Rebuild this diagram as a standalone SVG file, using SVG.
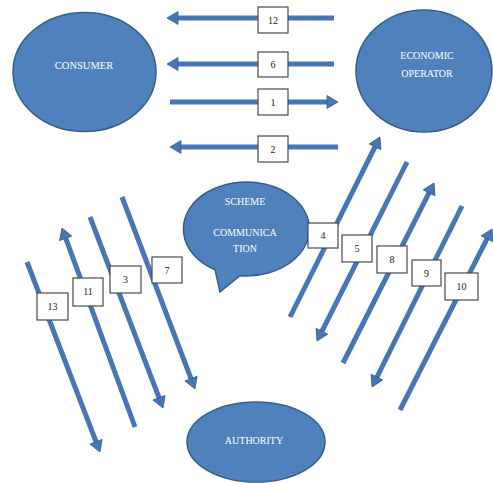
<svg xmlns="http://www.w3.org/2000/svg" width="493" height="485" viewBox="0 0 493 485">
<style>
.node{fill:#4f81bd;stroke:#385d8a;stroke-width:1.5}
.nt{fill:#ffffff;font-family:"Liberation Serif","Times New Roman",serif;font-size:10px;text-anchor:middle}
.ar{stroke:#4676b4;stroke-width:5;fill:none;marker-end:url(#head)}
.box{fill:#ffffff;stroke:#4a4a4a;stroke-width:1.2}
.bt{fill:#222222;font-family:"Liberation Serif","Times New Roman",serif;font-size:10px;text-anchor:middle}
</style>
<defs>
<marker id="head" markerUnits="userSpaceOnUse" markerWidth="14" markerHeight="16" viewBox="-1 -8 14 16" refX="1" refY="0" orient="auto">
<path d="M0,-6.5 L11,0 L0,6.5 Z" fill="#4676b4" stroke="#35609a" stroke-width="0.8"/>
</marker>
</defs>
<rect width="493" height="485" fill="#ffffff"/>
<g id="consumer">
<ellipse class="node" cx="84.5" cy="72" rx="71.5" ry="59.5"/>
<text class="nt" x="84" y="69" style="font-size:10.5px">CONSUMER</text>
</g>
<g id="economic-operator">
<ellipse class="node" cx="424" cy="71" rx="68" ry="61"/>
<text class="nt" x="427" y="59">ECONOMIC</text>
<text class="nt" x="427" y="77">OPERATOR</text>
</g>
<g id="scheme-communication">
<path class="node" d="M215,269.7 L220,292 L240,275.7 A63,47 0 1 0 215,269.7 Z"/>
<text class="nt" x="245" y="205">SCHEME</text>
<text class="nt" x="245" y="236">COMMUNICA</text>
<text class="nt" x="245" y="252">TION</text>
</g>
<g id="authority">
<ellipse class="node" cx="256" cy="442" rx="69" ry="40"/>
<text class="nt" x="254" y="444">AUTHORITY</text>
</g>
<g id="connectors">
<line class="ar" x1="334" y1="18" x2="177" y2="18"/>
<line class="ar" x1="334" y1="64" x2="177" y2="64"/>
<line class="ar" x1="170" y1="102" x2="328" y2="102"/>
<line class="ar" x1="338" y1="147" x2="180" y2="147"/>
<line class="ar" x1="27" y1="262" x2="96.4" y2="442.7"/>
<line class="ar" x1="135" y1="427" x2="65.4" y2="237.4"/>
<line class="ar" x1="90" y1="217" x2="159.4" y2="398.7"/>
<line class="ar" x1="122" y1="197" x2="191.4" y2="379.6"/>
<line class="ar" x1="290" y1="317" x2="375.5" y2="145.9"/>
<line class="ar" x1="407" y1="162" x2="321.5" y2="332.1"/>
<line class="ar" x1="343" y1="363" x2="429.5" y2="191.9"/>
<line class="ar" x1="462" y1="206" x2="376.5" y2="378"/>
<line class="ar" x1="400" y1="410" x2="487.5" y2="237.9"/>
</g>
<g id="label-12"><rect class="box" x="258" y="7" width="30" height="26"/><text class="bt" x="273" y="24">12</text></g>
<g id="label-6"><rect class="box" x="258" y="52" width="30" height="25"/><text class="bt" x="273" y="68">6</text></g>
<g id="label-1"><rect class="box" x="258" y="89" width="30" height="26"/><text class="bt" x="273" y="106">1</text></g>
<g id="label-2"><rect class="box" x="258" y="136" width="30" height="26"/><text class="bt" x="273" y="153">2</text></g>
<g id="label-13"><rect class="box" x="37" y="293" width="31" height="27"/><text class="bt" x="52.5" y="310">13</text></g>
<g id="label-11"><rect class="box" x="73" y="278" width="30" height="28"/><text class="bt" x="88" y="295">11</text></g>
<g id="label-3"><rect class="box" x="110" y="266" width="31" height="27"/><text class="bt" x="125.5" y="283">3</text></g>
<g id="label-7"><rect class="box" x="152" y="257" width="30" height="26"/><text class="bt" x="167" y="274">7</text></g>
<g id="label-4"><rect class="box" x="308" y="223" width="30" height="25"/><text class="bt" x="323" y="239">4</text></g>
<g id="label-5"><rect class="box" x="342" y="235" width="30" height="27"/><text class="bt" x="357" y="252">5</text></g>
<g id="label-8"><rect class="box" x="377" y="246" width="30" height="27"/><text class="bt" x="392" y="263">8</text></g>
<g id="label-9"><rect class="box" x="412" y="260" width="29" height="26"/><text class="bt" x="426.5" y="277">9</text></g>
<g id="label-10"><rect class="box" x="445" y="273" width="33" height="27"/><text class="bt" x="461.5" y="290">10</text></g>
</svg>
